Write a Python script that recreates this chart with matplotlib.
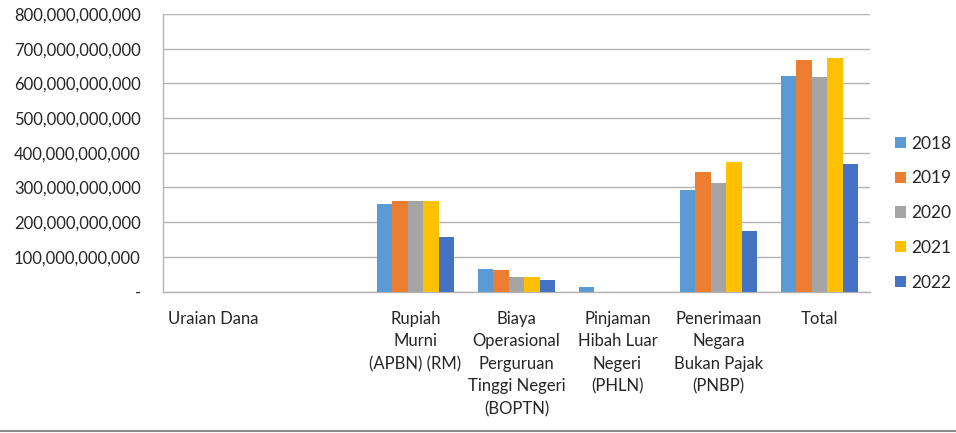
import matplotlib
matplotlib.use("Agg")
import matplotlib.pyplot as plt
from matplotlib.ticker import FuncFormatter, MultipleLocator
from matplotlib.lines import Line2D
import numpy as np

plt.rcParams['font.family'] = ['Lato', 'DejaVu Sans']

categories = ["Uraian Dana", "",
              "Rupiah\nMurni\n(APBN) (RM)",
              "Biaya\nOperasional\nPerguruan\nTinggi Negeri\n(BOPTN)",
              "Pinjaman\nHibah Luar\nNegeri\n(PHLN)",
              "Penerimaan\nNegara\nBukan Pajak\n(PNBP)",
              "Total"]
years = ["2018", "2019", "2020", "2021", "2022"]
colors = ["#5B9BD5", "#ED7D31", "#A5A5A5", "#FFC000", "#4472C4"]

v2018 = [0, 0, 252e9, 65e9, 14e9, 292e9, 621e9]
v2019 = [0, 0, 260e9, 62e9, 0, 344e9, 666e9]
v2020 = [0, 0, 260e9, 43e9, 0, 313e9, 618e9]
v2021 = [0, 0, 260e9, 41e9, 0, 373e9, 673e9]
v2022 = [0, 0, 158e9, 33e9, 0, 174e9, 368e9]
series = [v2018, v2019, v2020, v2021, v2022]

fig = plt.figure(figsize=(9.56, 4.33), dpi=100)
ax = fig.add_axes([163/956, 1-291.5/433, (870-163)/956, (291.5-14)/433])

x = np.arange(len(categories))
n = len(series)
w = 1/6.5
for i, (vals, c, lab) in enumerate(zip(series, colors, years)):
    ax.bar(x + (i - (n-1)/2) * w, vals, width=w, color=c, label=lab, zorder=3)

ax.set_xlim(-0.5, len(categories) - 0.5)
ax.set_ylim(0, 800e9)
ax.yaxis.set_major_locator(MultipleLocator(100e9))
ax.yaxis.set_major_formatter(FuncFormatter(lambda v, p: '-' if v == 0 else f'{v:,.0f}'))
ax.grid(axis='y', color='#B4B4B4', linewidth=1.0, zorder=0)
ax.set_axisbelow(True)
for s in ['top', 'right']:
    ax.spines[s].set_visible(False)
for s in ['left', 'bottom']:
    ax.spines[s].set_color('#B4B4B4')
    ax.spines[s].set_linewidth(1.0)

ax.set_xticks(x)
ax.set_xticklabels(categories, fontsize=12, color='#262626', linespacing=1.5, va='top')
ax.tick_params(axis='x', length=0, pad=14)
ax.tick_params(axis='y', length=0, pad=16, labelsize=12, labelcolor='#262626')

leg = ax.legend(loc='center left', bbox_to_anchor=(0.936, 0.508), bbox_transform=fig.transFigure,
                frameon=False, fontsize=12.5, handlelength=0.62, handleheight=0.62,
                handletextpad=0.35, labelspacing=1.08, borderpad=0, borderaxespad=0)
for t in leg.get_texts():
    t.set_color('#262626')

fig.add_artist(Line2D([0, 1], [1-431/433, 1-431/433], transform=fig.transFigure,
                      color='#8C8C8C', linewidth=1.5))

fig.savefig("out.png", dpi=100)
